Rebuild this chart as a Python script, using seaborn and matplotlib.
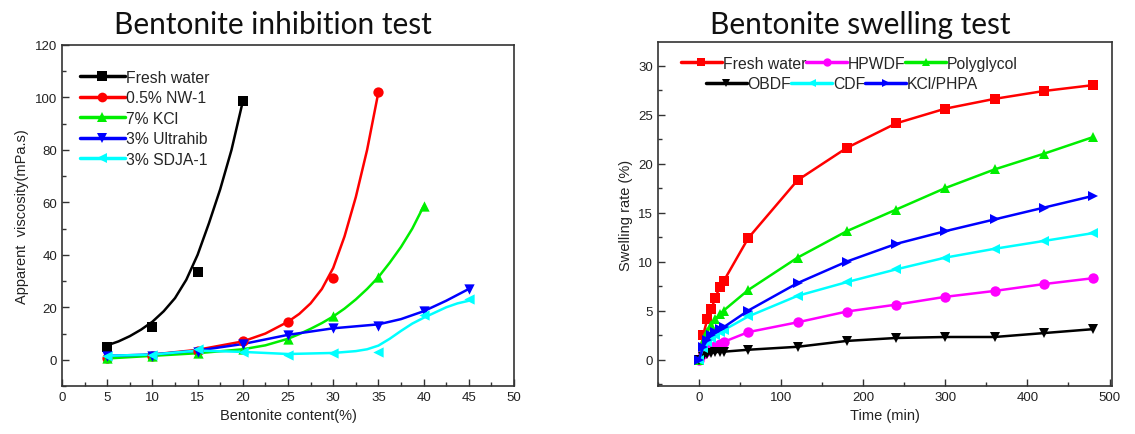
import numpy as np
import pandas as pd
import matplotlib
matplotlib.use("Agg")
import matplotlib.pyplot as plt
from matplotlib.lines import Line2D
from matplotlib.ticker import MultipleLocator
import seaborn as sns

sns.set_theme(style="white")
plt.rcParams['font.family'] = ['Liberation Sans', 'DejaVu Sans']

# ---------------- Left: Bentonite inhibition test ----------------
content = [5, 10, 15, 20, 25, 30, 35, 40, 45]
inh_labels = ["Fresh water", "0.5% NW-1", "7% KCl", "3% Ultrahib", "3% SDJA-1"]
# measured points
fw_pts = [5, 12.5, 33.5, 98.5]
nw_pts = [0.5, 1.5, 3.5, 7, 14.5, 31, 102]
kcl_pts = [0.5, 1.5, 2.5, 4, 8, 16.5, 31.5, 58.5]
ult_pts = [1.5, 1.5, 3, 6, 9.5, 12, 13, 18.5, 27]
sdja_pts = [1.5, 2, 4, 3, 2, 2.5, 3, 17, 23]
# fitted curves
fw_cx = [5, 6.25, 7.5, 8.75, 10, 11.25, 12.5, 13.75, 15, 16.25, 17.5, 18.75, 20]
fw_cy = [5.5, 7, 9, 11.5, 14.5, 18.5, 23.5, 30.5, 40, 52, 65, 80, 98.5]
nw_cx = [5, 10, 15, 20, 22.5, 25, 26.25, 27.5, 28.75, 30, 31.25, 32.5, 33.75, 35]
nw_cy = [0.8, 2, 3.8, 7, 10, 14.5, 17.5, 21.5, 27, 35, 47, 62, 80, 102]
kcl_cx = [5, 10, 15, 20, 22.5, 25, 26.25, 27.5, 28.75, 30, 31.25, 32.5, 33.75, 35, 36.25, 37.5, 38.75, 40]
kcl_cy = [0.5, 1.5, 2.5, 4, 5.5, 8, 9.8, 11.8, 14, 16.5, 19.5, 23, 27, 31.5, 37, 43, 50, 58.5]
ult_cx = [5, 10, 15, 20, 25, 30, 35, 37.5, 40, 42.5, 45]
ult_cy = [1.5, 2, 3.5, 6, 9.5, 12, 13.5, 15.5, 18.5, 22.5, 27]
sdja_cx = [5, 10, 15, 20, 25, 30, 32.5, 33.75, 35, 36.25, 37.5, 38.75, 40, 41.25, 42.5, 43.75, 45]
sdja_cy = [1.5, 2, 3.5, 3, 2.2, 2.6, 3.3, 4, 5.4, 8, 11, 13.8, 16, 18, 20, 21.5, 22.5]

# ---------------- Right: Bentonite swelling test ----------------
time_min = [0, 5, 10, 15, 20, 25, 30, 60, 120, 180, 240, 300, 360, 420, 480]
swell_labels = ["Fresh water", "HPWDF", "Polyglycol", "OBDF", "CDF", "KCl/PHPA"]
fresh = [0, 2.5, 4.1, 5.2, 6.3, 7.4, 8.0, 12.4, 18.3, 21.6, 24.1, 25.6, 26.6, 27.4, 28.0]
hpwdf = [0, 0.6, 0.9, 1.2, 1.4, 1.6, 1.8, 2.8, 3.8, 4.9, 5.6, 6.4, 7.0, 7.7, 8.3]
polyg = [0, 1.8, 2.8, 3.5, 4.1, 4.6, 5.0, 7.1, 10.4, 13.1, 15.3, 17.5, 19.4, 21.0, 22.7]
obdf = [0, 0.3, 0.6, 0.7, 0.75, 0.8, 0.8, 1.0, 1.3, 1.9, 2.2, 2.3, 2.3, 2.7, 3.1]
cdf = [0, 1.2, 1.8, 2.2, 2.5, 2.8, 3.0, 4.4, 6.5, 7.9, 9.2, 10.4, 11.3, 12.1, 12.9]
kclphpa = [0, 1.3, 2.0, 2.5, 2.8, 3.1, 3.3, 5.0, 7.8, 10.0, 11.8, 13.1, 14.3, 15.5, 16.7]

fig = plt.figure(figsize=(11.35, 4.35), dpi=100)
axL = fig.add_axes([62/1135, 1-387/435, (514-62)/1135, (387-46)/435])
axR = fig.add_axes([658/1135, 1-387/435, (1112-658)/1135, (387-43)/435])

cols_L = ["#000000", "#FF0000", "#00EE00", "#0000FF", "#00FFFF"]
marks_L = ["s", "o", "^", "v", "<"]
curves = [(fw_cx, fw_cy), (nw_cx, nw_cy), (kcl_cx, kcl_cy), (ult_cx, ult_cy), (sdja_cx, sdja_cy)]
pts = [fw_pts, nw_pts, kcl_pts, ult_pts, sdja_pts]

handlesL = []
for lab, col, mk, (cx, cy), p in zip(inh_labels, cols_L, marks_L, curves, pts):
    sns.lineplot(x=cx, y=cy, ax=axL, color=col, lw=1.8, estimator=None, sort=False)
    sns.scatterplot(x=content[:len(p)], y=p, ax=axL, color=col, marker=mk, s=55,
                    edgecolor=col, linewidth=0, zorder=5)
    handlesL.append(Line2D([], [], color=col, lw=2.5, marker=mk, markersize=7, markeredgewidth=0))

axL.set_xlim(0, 50)
axL.set_ylim(-10, 120)
axL.xaxis.set_major_locator(MultipleLocator(5))
axL.xaxis.set_minor_locator(MultipleLocator(2.5))
axL.yaxis.set_major_locator(MultipleLocator(20))
axL.yaxis.set_minor_locator(MultipleLocator(10))
axL.set_xlabel("Bentonite content(%)", fontsize=10.5, color="#222222")
axL.set_ylabel("Apparent  viscosity(mPa.s)", fontsize=10.5, color="#222222")
axL.legend(handles=handlesL, labels=inh_labels, loc="upper left", bbox_to_anchor=(0.018, 0.955),
           frameon=False, fontsize=11.3, handlelength=2.9, handletextpad=0.05,
           labelspacing=0.35, borderaxespad=0.2)

cols_R = ["#FF0000", "#FF00FF", "#00EE00", "#000000", "#00FFFF", "#0000FF"]
marks_R = ["s", "o", "^", "v", "<", ">"]
series_R = [fresh, hpwdf, polyg, obdf, cdf, kclphpa]
handlesR = []
for lab, col, mk, y in zip(swell_labels, cols_R, marks_R, series_R):
    sns.lineplot(x=time_min, y=y, ax=axR, color=col, lw=1.8, marker=mk, markersize=7.5,
                 markeredgewidth=0, markeredgecolor=col, estimator=None, sort=False)
    handlesR.append(Line2D([], [], color=col, lw=2.5, marker=mk, markersize=6, markeredgewidth=0))

axR.set_xlim(-50, 503)
axR.set_ylim(-2.7, 32.4)
axR.xaxis.set_major_locator(MultipleLocator(100))
axR.xaxis.set_minor_locator(MultipleLocator(50))
axR.yaxis.set_major_locator(MultipleLocator(5))
axR.yaxis.set_minor_locator(MultipleLocator(2.5))
axR.set_xlabel("Time (min)", fontsize=10.5, color="#222222")
axR.set_ylabel("Swelling rate (%)", fontsize=10.5, color="#222222")

leg1 = axR.legend(handles=handlesR[:3], labels=swell_labels[:3], ncol=3, loc="upper left",
                  bbox_to_anchor=(0.037, 0.978), frameon=False, fontsize=11.3,
                  handlelength=2.6, handletextpad=0.05, columnspacing=0.0, borderaxespad=0)
axR.add_artist(leg1)
axR.legend(handles=handlesR[3:], labels=swell_labels[3:], ncol=3, loc="upper left",
           bbox_to_anchor=(0.092, 0.918), frameon=False, fontsize=11.3,
           handlelength=2.6, handletextpad=0.05, columnspacing=0.0, borderaxespad=0)

for ax in (axL, axR):
    for sp in ax.spines.values():
        sp.set_color("#333333")
        sp.set_linewidth(1.2)
    ax.tick_params(axis="both", which="both", direction="in", left=True, bottom=True,
                   top=False, right=False, colors="#333333", labelcolor="#222222", labelsize=9.5)
    ax.tick_params(which="major", length=5, width=1)
    ax.tick_params(which="minor", length=3, width=1)
    ax.grid(False)

fig.text(273/1135, 1-34/435, "Bentonite inhibition test", ha="center", va="baseline",
         fontsize=21.5, family=["Lato", "DejaVu Sans"], color="#111111")
fig.text(860/1135, 1-34/435, "Bentonite swelling test", ha="center", va="baseline",
         fontsize=21.5, family=["Lato", "DejaVu Sans"], color="#111111")

fig.savefig("out.png", dpi=100)
